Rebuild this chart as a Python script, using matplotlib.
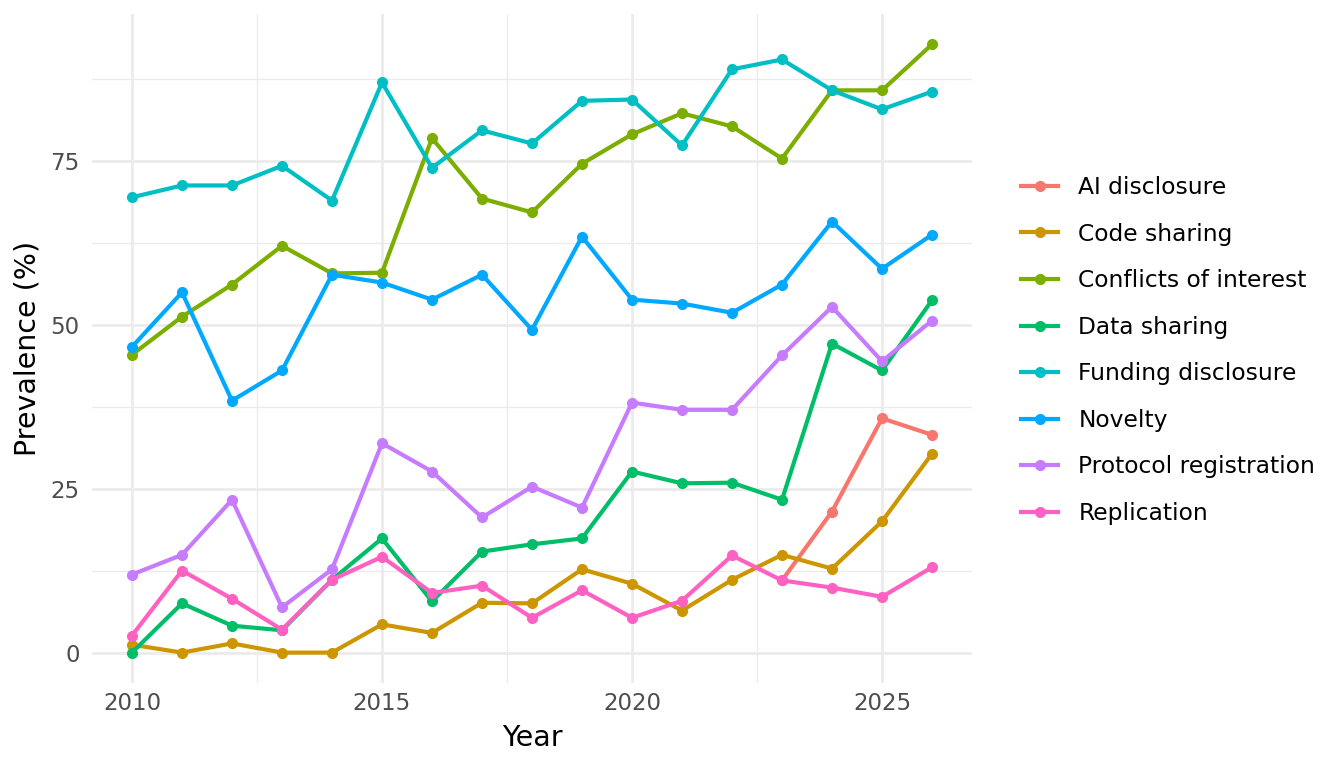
import matplotlib.pyplot as plt
import numpy as np

years = list(range(2010, 2027))
nan = np.nan

ai_disclosure = [nan] * 13 + [11.0, 21.5, 35.7, 33.2]
code_sharing = [1.2, 0.0, 1.4, 0.0, 0.0, 4.3, 3.0, 7.6, 7.5, 12.7, 10.5, 6.4, 11.1, 14.9, 12.8, 20.0, 30.3]
conflicts = [45.4, 51.2, 56.1, 62.0, 57.8, 57.9, 78.4, 69.2, 67.1, 74.5, 79.0, 82.2, 80.2, 75.3, 85.7, 85.7, 92.7]
data_sharing = [0.0, 7.5, 4.1, 3.4, 11.1, 17.4, 7.8, 15.4, 16.5, 17.4, 27.6, 25.8, 25.9, 23.3, 47.1, 43.0, 53.7]
funding = [69.4, 71.2, 71.2, 74.2, 68.9, 86.9, 73.9, 79.6, 77.6, 84.1, 84.3, 77.3, 88.9, 90.4, 85.7, 82.8, 85.5]
novelty = [46.6, 54.9, 38.4, 43.0, 57.6, 56.4, 53.8, 57.6, 49.2, 63.4, 53.8, 53.2, 51.8, 56.1, 65.7, 58.5, 63.7]
protocol = [11.9, 14.9, 23.3, 6.9, 12.7, 31.9, 27.6, 20.6, 25.3, 22.1, 38.1, 37.0, 37.0, 45.3, 52.7, 44.4, 50.6]
replication = [2.6, 12.5, 8.2, 3.5, 11.1, 14.6, 9.1, 10.2, 5.3, 9.5, 5.3, 7.9, 14.8, 11.0, 9.9, 8.5, 13.0]

labels = ["AI disclosure", "Code sharing", "Conflicts of interest", "Data sharing",
          "Funding disclosure", "Novelty", "Protocol registration", "Replication"]
series = [ai_disclosure, code_sharing, conflicts, data_sharing, funding, novelty, protocol, replication]
colors = ["#F8766D", "#CD9600", "#7CAE00", "#00BE67", "#00BFC4", "#00A9FF", "#C77CFF", "#FF61C3"]

fig = plt.figure(figsize=(13.44, 7.68), dpi=100)
ax = fig.add_axes([92 / 1344, (768 - 683) / 768, 880 / 1344, 669 / 768])

for lab, vals, c in zip(labels, series, colors):
    ax.plot(years, vals, color=c, lw=3.0, marker="o", ms=7, label=lab, zorder=3)

ax.set_xlim(2009.2, 2026.8)
ax.set_ylim(-4.635, 97.335)
ax.set_xticks([2010, 2015, 2020, 2025])
ax.set_yticks([0, 25, 50, 75])
ax.set_xticks([2012.5, 2017.5, 2022.5], minor=True)
ax.set_yticks([12.5, 37.5, 62.5, 87.5], minor=True)
ax.grid(True, which="major", color="#EBEBEB", lw=2.0)
ax.grid(True, which="minor", color="#EBEBEB", lw=1.0)
ax.set_axisbelow(True)
for s in ax.spines.values():
    s.set_visible(False)
ax.tick_params(which="both", length=0, labelsize=16.5, labelcolor="#4D4D4D")
ax.tick_params(axis="x", pad=6.5)
ax.tick_params(axis="y", pad=9)
ax.set_xlabel("Year", fontsize=20.5, labelpad=6.5)
ax.set_ylabel("Prevalence (%)", fontsize=20.5, labelpad=6)

ax.legend(loc="center left", bbox_to_anchor=(1.045, 0.497), frameon=False, fontsize=16.8,
          handlelength=1.6, handletextpad=0.86, labelspacing=1.01, borderaxespad=0)

fig.savefig("out.png", dpi=100)
